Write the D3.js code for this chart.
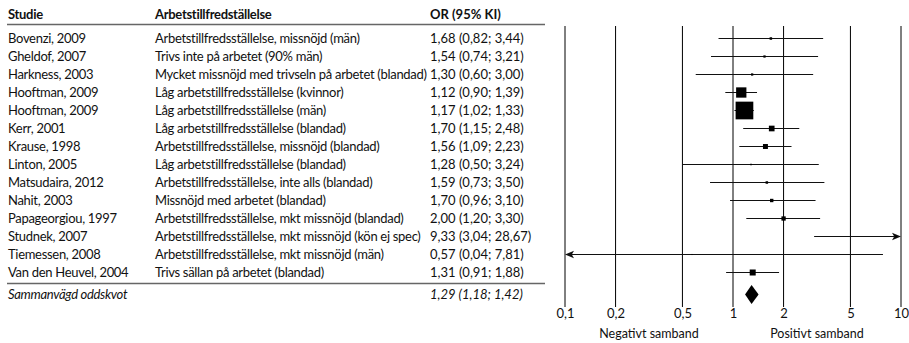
<!DOCTYPE html>
<html>
<head>
<meta charset="utf-8">
<script src="https://cdn.jsdelivr.net/npm/d3@7/dist/d3.min.js"></script>
<style>
  html, body { margin: 0; padding: 0; background: #fff; }
  svg { display: block; }
  text { font-family: Lato, "Open Sans", sans-serif; fill: #111; }
</style>
</head>
<body>
<svg id="chart" width="909" height="343"></svg>
<script>
// Studies in the meta-analysis
const studies = [
  "Bovenzi, 2009", "Gheldof, 2007", "Harkness, 2003", "Hooftman, 2009",
  "Hooftman, 2009", "Kerr, 2001", "Krause, 1998", "Linton, 2005",
  "Matsudaira, 2012", "Nahit, 2003", "Papageorgiou, 1997", "Studnek, 2007",
  "Tiemessen, 2008", "Van den Heuvel, 2004"
];
const exposures = [
  "Arbetstillfredsställelse, missnöjd (män)",
  "Trivs inte på arbetet (90% män)",
  "Mycket missnöjd med trivseln på arbetet (blandad)",
  "Låg arbetstillfredsställelse (kvinnor)",
  "Låg arbetstillfredsställelse (män)",
  "Låg arbetstillfredsställelse (blandad)",
  "Arbetstillfredsställelse, missnöjd (blandad)",
  "Låg arbetstillfredsställelse (blandad)",
  "Arbetstillfredsställelse, inte alls (blandad)",
  "Missnöjd med arbetet (blandad)",
  "Arbetstillfredsställelse, mkt missnöjd (blandad)",
  "Arbetstillfredsställelse, mkt missnöjd (kön ej spec)",
  "Arbetstillfredsställelse, mkt missnöjd (män)",
  "Trivs sällan på arbetet (blandad)"
];
// Odds ratios with 95% confidence limits
const orValues = [1.68, 1.54, 1.30, 1.12, 1.17, 1.70, 1.56, 1.28, 1.59, 1.70, 2.00, 9.33, 0.57, 1.31];
const ciLower  = [0.82, 0.74, 0.60, 0.90, 1.02, 1.15, 1.09, 0.50, 0.73, 0.96, 1.20, 3.04, 0.04, 0.91];
const ciUpper  = [3.44, 3.21, 3.00, 1.39, 1.33, 2.48, 2.23, 3.24, 3.50, 3.10, 3.30, 28.67, 7.81, 1.88];
// Relative study weights (%)
const weights  = [1.1, 0.9, 0.9, 18.5, 54.7, 5.6, 4.3, 0.4, 1.1, 2.0, 3.2, 0.7, 0.2, 6.3];

// Pooled estimate
const pooledLabel = "Sammanvägd oddskvot";
const pooled = { or: 1.29, lo: 1.18, hi: 1.42 };

// Column headers, axis ticks and axis captions
const headers = ["Studie", "Arbetstillfredställelse", "OR (95% KI)"];
const tickValues = [0.1, 0.2, 0.5, 1, 2, 5, 10];
const sideLabels = ["Negativt samband", "Positivt samband"];

const fmt = v => d3.format(".2f")(v).replace(".", ",");
const orText = (o, l, h) => `${fmt(o)} (${fmt(l)}; ${fmt(h)})`;

const svg = d3.select("#chart");

const colX = [8, 155, 430];
const tableRight = 545;
const tight = "-0.3px";

const x = d3.scaleLog().domain([0.1, 10]).range([565, 901]);
const y = d3.scalePoint().domain(d3.range(studies.length)).range([38.5, 272.5]);
const ySum = 294.5;
const side = d3.scaleSqrt().domain([0, d3.max(weights)]).range([0, 17.7]);

// ----- Table -----
const fontSize = 13;
svg.append("g").selectAll("text").data(headers).join("text")
  .attr("x", (d, i) => colX[i]).attr("y", 19)
  .attr("font-size", fontSize).attr("font-weight", 700)
  .attr("letter-spacing", (d, i) => i < 2 ? tight : null)
  .text(d => d);

svg.append("line")
  .attr("x1", 7).attr("x2", tableRight).attr("y1", 24.5).attr("y2", 24.5)
  .attr("stroke", "#666").attr("stroke-width", 1.4);

const rows = svg.append("g").selectAll("g").data(studies).join("g")
  .attr("transform", (d, i) => `translate(0,${y(i) + 4.5})`);
rows.append("text").attr("x", colX[0]).attr("font-size", fontSize)
  .attr("letter-spacing", tight).text(d => d);
rows.append("text").attr("x", colX[1]).attr("font-size", fontSize)
  .attr("letter-spacing", tight).text((d, i) => exposures[i]);
rows.append("text").attr("x", colX[2]).attr("font-size", fontSize)
  .text((d, i) => orText(orValues[i], ciLower[i], ciUpper[i]));

svg.append("line")
  .attr("x1", 7).attr("x2", tableRight).attr("y1", 283.5).attr("y2", 283.5)
  .attr("stroke", "#666").attr("stroke-width", 1.4);

svg.append("text").attr("x", colX[0]).attr("y", ySum + 4.5)
  .attr("font-size", fontSize).attr("font-style", "italic")
  .attr("letter-spacing", tight).text(pooledLabel);
svg.append("text").attr("x", colX[2]).attr("y", ySum + 4.5)
  .attr("font-size", fontSize).attr("font-style", "italic")
  .text(orText(pooled.or, pooled.lo, pooled.hi));

// ----- Forest plot -----
const plot = svg.append("g");

plot.append("g").selectAll("line").data(tickValues).join("line")
  .attr("x1", d => x(d)).attr("x2", d => x(d))
  .attr("y1", 26).attr("y2", 307)
  .attr("stroke", "#000").attr("stroke-width", 1);

const axis = d3.axisBottom(x).tickValues(tickValues)
  .tickFormat(d => String(d).replace(".", ",")).tickSize(0).tickPadding(0);
const axisG = plot.append("g").attr("transform", "translate(0,306)").call(axis);
axisG.select(".domain").remove();
axisG.selectAll("text")
  .attr("font-family", "Lato, sans-serif")
  .attr("font-size", 13).attr("fill", "#111").attr("dy", "0.95em");

plot.append("g").selectAll("text").data(sideLabels).join("text")
  .attr("x", (d, i) => x(i === 0 ? Math.sqrt(0.1 * 1) : Math.sqrt(1 * 10)))
  .attr("y", 338).attr("text-anchor", "middle").attr("font-size", 12.5)
  .text(d => d);

const [dMin, dMax] = x.domain();
const clamp = v => Math.max(dMin, Math.min(dMax, v));

// Confidence interval lines
plot.append("g").selectAll("line").data(studies).join("line")
  .attr("x1", (d, i) => x(clamp(ciLower[i])) + (ciLower[i] < dMin ? 4 : 0))
  .attr("x2", (d, i) => x(clamp(ciUpper[i])) - (ciUpper[i] > dMax ? 4 : 0))
  .attr("y1", (d, i) => y(i)).attr("y2", (d, i) => y(i))
  .attr("stroke", "#111").attr("stroke-width", 1);

// Arrowheads where an interval runs past the axis
const arrows = [];
studies.forEach((d, i) => {
  if (ciLower[i] < dMin) arrows.push({ i, dir: -1, v: dMin });
  if (ciUpper[i] > dMax) arrows.push({ i, dir: 1, v: dMax });
});
plot.append("g").selectAll("path").data(arrows).join("path")
  .attr("d", a => {
    const tx = x(a.v), ty = y(a.i);
    const bx = tx - a.dir * 9;
    return `M${tx},${ty} L${bx},${ty - 3.8} L${bx + a.dir * 2.2},${ty} L${bx},${ty + 3.8} Z`;
  })
  .attr("fill", "#111");

// Study point estimates, sized by weight
plot.append("g").selectAll("rect").data(studies).join("rect")
  .filter((d, i) => orValues[i] >= dMin && orValues[i] <= dMax)
  .attr("x", (d, i) => x(orValues[i]) - side(weights[i]) / 2)
  .attr("y", (d, i) => y(i) - side(weights[i]) / 2)
  .attr("width", (d, i) => side(weights[i]))
  .attr("height", (d, i) => side(weights[i]))
  .attr("fill", "#000");

// Pooled estimate diamond
plot.append("path")
  .attr("d", `M${x(pooled.lo)},${ySum} L${x(pooled.or)},${ySum - 9.5} L${x(pooled.hi)},${ySum} L${x(pooled.or)},${ySum + 9.5} Z`)
  .attr("fill", "#000");
</script>
</body>
</html>
